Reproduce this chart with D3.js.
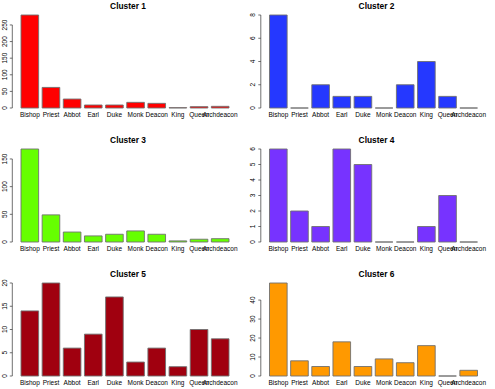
<!DOCTYPE html>
<html>
<head>
<meta charset="utf-8">
<script src="https://cdn.jsdelivr.net/npm/d3@7"></script>
<style>
  html, body { margin: 0; padding: 0; background: #fff; }
  svg text { font-family: "Liberation Sans", Arial, Helvetica, sans-serif; fill: #000; }
</style>
</head>
<body>
<div id="chart"></div>
<script>
// categories shared by every panel
const titles = ["Bishop", "Priest", "Abbot", "Earl", "Duke", "Monk", "Deacon", "King", "Queen", "Archdeacon"];

// counts per cluster
const cluster1 = [280, 62, 27, 9, 9, 17, 14, 1, 4, 5];
const cluster2 = [8, 0, 2, 1, 1, 0, 2, 4, 1, 0];
const cluster3 = [168, 49, 18, 11, 14, 20, 14, 2, 5, 6];
const cluster4 = [6, 2, 1, 6, 5, 0, 0, 1, 3, 0];
const cluster5 = [14, 20, 6, 9, 17, 3, 6, 2, 10, 8];
const cluster6 = [49, 8, 5, 18, 5, 9, 7, 16, 0, 3];

// y tick labels per cluster
const ticks1 = [0, 50, 100, 150, 200, 250];
const ticks2 = [0, 2, 4, 6, 8];
const ticks3 = [0, 50, 100, 150];
const ticks4 = [0, 1, 2, 3, 4, 5, 6];
const ticks5 = [0, 5, 10, 15, 20];
const ticks6 = [0, 10, 20, 30, 40];

const panelNames = ["Cluster 1", "Cluster 2", "Cluster 3", "Cluster 4", "Cluster 5", "Cluster 6"];
const panelValues = [cluster1, cluster2, cluster3, cluster4, cluster5, cluster6];
const panelTicks = [ticks1, ticks2, ticks3, ticks4, ticks5, ticks6];
const panelColors = ["#ff0000", "#2538ff", "#66ff00", "#7733ff", "#a0000f", "#ff9900"];

const W = 495, H = 389;
const svg = d3.select("#chart").append("svg")
  .attr("width", W)
  .attr("height", H);

panelNames.forEach((name, i) => {
  const col = i % 2, row = Math.floor(i / 2);
  const dx = col * 248.5;
  const zeroY = 108 + row * 134;   // baseline of the bars
  const barTop = 93;               // tallest bar height in px
  const values = panelValues[i];

  const x = d3.scaleBand()
    .domain(titles)
    .range([21 + dx, 229 + dx])
    .paddingInner(1 / 6)
    .paddingOuter(0);

  const y = d3.scaleLinear()
    .domain([0, d3.max(values)])
    .range([zeroY, zeroY - barTop]);

  const g = svg.append("g");

  // bars (paths so zero-height bars still show as a line)
  g.selectAll(".bar")
    .data(titles)
    .enter()
    .append("path")
    .attr("class", "bar")
    .attr("d", (d, j) => {
      const x0 = x(d), w = x.bandwidth();
      const y0 = y(values[j]);
      return `M${x0},${zeroY}V${y0}H${x0 + w}V${zeroY}Z`;
    })
    .attr("fill", panelColors[i])
    .attr("stroke", "#707070")
    .attr("stroke-width", 0.9);

  // category labels
  g.selectAll(".xlab")
    .data(titles)
    .enter()
    .append("text")
    .attr("x", d => x(d) + x.bandwidth() / 2)
    .attr("y", zeroY + 9)
    .attr("text-anchor", "middle")
    .style("font-size", "6.5px")
    .text(d => d);

  // y axis, R style: line from first to last tick, rotated labels
  const ax = 12.3 + dx;
  const tv = panelTicks[i];
  const ag = g.append("g")
    .attr("transform", `translate(${ax},0)`);

  ag.append("line")
    .attr("y1", y(tv[0]))
    .attr("y2", y(tv[tv.length - 1]))
    .attr("stroke", "#333")
    .attr("stroke-width", 0.7);

  ag.selectAll(".tk")
    .data(tv)
    .enter()
    .append("line")
    .attr("x1", -2.5).attr("x2", 0)
    .attr("y1", d => y(d)).attr("y2", d => y(d))
    .attr("stroke", "#333")
    .attr("stroke-width", 0.7);

  ag.selectAll(".tl")
    .data(tv)
    .enter()
    .append("text")
    .attr("text-anchor", "middle")
    .attr("transform", d => `translate(-5.3,${y(d)}) rotate(-90)`)
    .style("font-size", "6.5px")
    .text(d => d);

  // title
  g.append("text")
    .attr("x", 128 + dx)
    .attr("y", zeroY - 99)
    .attr("text-anchor", "middle")
    .style("font-size", "8.4px")
    .style("font-weight", "bold")
    .text(name);
});
</script>
</body>
</html>
